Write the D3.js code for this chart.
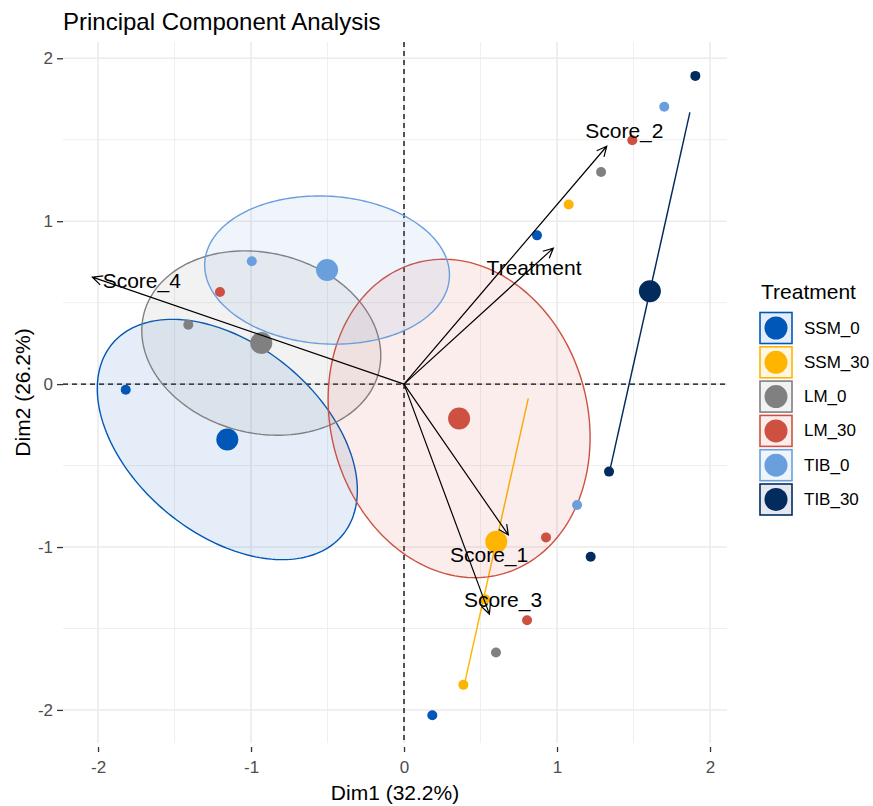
<!DOCTYPE html>
<html>
<head>
<meta charset="utf-8">
<script src="https://cdn.jsdelivr.net/npm/d3@7/dist/d3.min.js"></script>
<style>
  html, body { margin: 0; padding: 0; background: #ffffff; }
  svg { display: block; font-family: "Liberation Sans", Arial, Helvetica, sans-serif; }
</style>
</head>
<body>
<svg id="chart" width="873" height="806"></svg>
<script>
// ---- data ----------------------------------------------------------------
const groups = ["SSM_0", "SSM_30", "LM_0", "LM_30", "TIB_0", "TIB_30"];
const groupColors = ["#0057B7", "#FFB400", "#808080", "#CD5040", "#6A9FDE", "#022B5E"];

// individual scores (Dim1, Dim2) with their treatment
const indGroup = ["SSM_0", "SSM_0", "SSM_0", "SSM_30", "SSM_30", "SSM_30",
                  "LM_0", "LM_0", "LM_0", "LM_30", "LM_30", "LM_30", "LM_30",
                  "TIB_0", "TIB_0", "TIB_0", "TIB_30", "TIB_30", "TIB_30"];
const indDim1 = [-1.819, 0.869, 0.185, 1.076, 0.388, 0.529,
                 1.288, 0.601, -1.410, 1.492, 0.928, 0.804, -1.203,
                 1.701, 1.131, -0.995, 1.904, 1.220, 1.340];
const indDim2 = [-0.035, 0.913, -2.033, 1.102, -1.846, -1.320,
                 1.302, -1.648, 0.364, 1.497, -0.941, -1.449, 0.565,
                 1.702, -0.742, 0.754, 1.892, -1.060, -0.537];

// group means (ellipse centres)
const meanDim1 = [-1.155, 0.603, -0.933, 0.360, -0.503, 1.607];
const meanDim2 = [-0.340, -0.967, 0.252, -0.211, 0.700, 0.570];

// concentration ellipse shape matrices (var1, var2, cov12);
// SSM_30 and TIB_30 are collinear, so their ellipses collapse to segments
const ellVar1 = [0.7225, 0.0437, 0.610, 0.733, 0.640, 0.0684];
const ellVar2 = [0.544, 0.7726, 0.320, 0.955, 0.207, 1.2063];
const ellCov  = [-0.265, 0.183746, -0.060, -0.100, -0.024, 0.287247];

// variable loadings (arrow tips) and label anchors
const varNames = ["Score_1", "Score_2", "Score_3", "Score_4", "Treatment"];
const varDim1 = [0.682, 1.325, 0.558, -2.037, 0.976];
const varDim2 = [-0.926, 1.460, -1.412, 0.657, 0.835];
const varLabelDim1 = [0.556, 1.440, 0.647, -1.714, 0.850];
const varLabelDim2 = [-1.047, 1.554, -1.320, 0.637, 0.715];

const majorTicks = [-2, -1, 0, 1, 2];
const minorTicks = [-1.5, -0.5, 0.5, 1.5];

// ---- layout --------------------------------------------------------------
const svg = d3.select("#chart");
const panel = { left: 63, right: 727, top: 42, bottom: 743 };

const x = d3.scaleLinear().domain([-2.229, 2.111]).range([panel.left, panel.right]);
const y = d3.scaleLinear().domain([-2.203, 2.10]).range([panel.bottom, panel.top]);
const color = d3.scaleOrdinal().domain(groups).range(groupColors);

// ---- grid ----------------------------------------------------------------
const grid = svg.append("g");
minorTicks.forEach(v => {
  grid.append("line").attr("x1", x(v)).attr("x2", x(v)).attr("y1", panel.top).attr("y2", panel.bottom)
    .attr("stroke", "#EFEFEF").attr("stroke-width", 1);
  grid.append("line").attr("y1", y(v)).attr("y2", y(v)).attr("x1", panel.left).attr("x2", panel.right)
    .attr("stroke", "#EFEFEF").attr("stroke-width", 1);
});
majorTicks.forEach(v => {
  grid.append("line").attr("x1", x(v)).attr("x2", x(v)).attr("y1", panel.top).attr("y2", panel.bottom)
    .attr("stroke", "#EBEBEB").attr("stroke-width", 1.6);
  grid.append("line").attr("y1", y(v)).attr("y2", y(v)).attr("x1", panel.left).attr("x2", panel.right)
    .attr("stroke", "#EBEBEB").attr("stroke-width", 1.6);
});

// ---- axes ----------------------------------------------------------------
const xAxis = d3.axisBottom(x).tickValues(majorTicks).tickSize(5).tickPadding(9).tickFormat(d3.format("d"));
const gx = svg.append("g").attr("transform", `translate(0,${panel.bottom + 4})`).call(xAxis);
gx.select(".domain").remove();
gx.selectAll(".tick line").attr("stroke", "#333333").attr("stroke-width", 1.3);
gx.selectAll(".tick text").attr("fill", "#4D4D4D").style("font-size", "17px")
  .style("font-family", "'Liberation Sans', Arial, sans-serif");

const yAxis = d3.axisLeft(y).tickValues(majorTicks).tickSize(6).tickPadding(4).tickFormat(d3.format("d"));
const gy = svg.append("g").attr("transform", `translate(${panel.left},0)`).call(yAxis);
gy.select(".domain").remove();
gy.selectAll(".tick line").attr("stroke", "#333333").attr("stroke-width", 1.3);
gy.selectAll(".tick text").attr("fill", "#4D4D4D").style("font-size", "17px")
  .style("font-family", "'Liberation Sans', Arial, sans-serif");

// minus signs as plain hyphens
svg.selectAll(".tick text").text(d => (d < 0 ? "-" + Math.abs(d) : String(d)));

// ---- origin reference lines -------------------------------------------------
svg.append("line").attr("x1", x(0)).attr("x2", x(0)).attr("y1", panel.top).attr("y2", panel.bottom)
  .attr("stroke", "#000").attr("stroke-width", 1.3).attr("stroke-dasharray", "5,4");
svg.append("line").attr("y1", y(0)).attr("y2", y(0)).attr("x1", panel.left).attr("x2", panel.right)
  .attr("stroke", "#000").attr("stroke-width", 1.3).attr("stroke-dasharray", "5,4");

// ---- concentration ellipses -------------------------------------------------
function ellipsePoints(i) {
  const l11 = Math.sqrt(ellVar1[i]);
  const l21 = ellCov[i] / l11;
  const l22 = Math.sqrt(Math.max(0, ellVar2[i] - l21 * l21));
  return d3.range(0, 200).map(k => {
    const t = (k / 200) * 2 * Math.PI;
    return [meanDim1[i] + l11 * Math.cos(t), meanDim2[i] + l21 * Math.cos(t) + l22 * Math.sin(t)];
  });
}
const ellLine = d3.line().x(d => x(d[0])).y(d => y(d[1])).curve(d3.curveLinearClosed);
svg.append("g").selectAll("path").data(groups).join("path")
  .attr("d", (g, i) => ellLine(ellipsePoints(i)))
  .attr("fill", g => color(g)).attr("fill-opacity", 0.1)
  .attr("stroke", g => color(g)).attr("stroke-width", 1.4);

// ---- individuals -----------------------------------------------------------
svg.append("g").selectAll("circle").data(indGroup).join("circle")
  .attr("cx", (g, i) => x(indDim1[i])).attr("cy", (g, i) => y(indDim2[i]))
  .attr("r", 5).attr("fill", g => color(g));

// group means
svg.append("g").selectAll("circle").data(groups).join("circle")
  .attr("cx", (g, i) => x(meanDim1[i])).attr("cy", (g, i) => y(meanDim2[i]))
  .attr("r", 11).attr("fill", g => color(g));

// ---- variable arrows -------------------------------------------------------
const arrows = svg.append("g");
varNames.forEach((name, i) => {
  const x0 = x(0), y0 = y(0), x1 = x(varDim1[i]), y1 = y(varDim2[i]);
  const ang = Math.atan2(y1 - y0, x1 - x0);
  const head = 11, spread = Math.PI / 7;
  const p = d3.path();
  p.moveTo(x0, y0); p.lineTo(x1, y1);
  p.moveTo(x1 - head * Math.cos(ang - spread), y1 - head * Math.sin(ang - spread));
  p.lineTo(x1, y1);
  p.lineTo(x1 - head * Math.cos(ang + spread), y1 - head * Math.sin(ang + spread));
  arrows.append("path").attr("d", p.toString()).attr("fill", "none")
    .attr("stroke", "#000").attr("stroke-width", 1.2);
});
arrows.selectAll("text").data(varNames).join("text")
  .attr("x", (d, i) => x(varLabelDim1[i])).attr("y", (d, i) => y(varLabelDim2[i]))
  .attr("text-anchor", "middle").attr("dominant-baseline", "central")
  .style("font-size", "21px").attr("fill", "#000").text(d => d);

// ---- titles ----------------------------------------------------------------
svg.append("text").attr("x", panel.left).attr("y", 30).style("font-size", "24px").attr("fill", "#000")
  .text("Principal Component Analysis");
svg.append("text").attr("x", (panel.left + panel.right) / 2).attr("y", 800).attr("text-anchor", "middle")
  .style("font-size", "21px").attr("fill", "#000").text("Dim1 (32.2%)");
svg.append("text").attr("transform", `translate(30,${(panel.top + panel.bottom) / 2}) rotate(-90)`)
  .attr("text-anchor", "middle").style("font-size", "21px").attr("fill", "#000").text("Dim2 (26.2%)");

// ---- legend ----------------------------------------------------------------
const legend = svg.append("g").attr("transform", "translate(760,0)");
legend.append("text").attr("x", 1).attr("y", 299).style("font-size", "21px").attr("fill", "#000").text("Treatment");
const keys = legend.selectAll("g.key").data(groups).join("g").attr("class", "key")
  .attr("transform", (d, i) => `translate(0,${328 + i * 34.3})`);
keys.append("rect").attr("x", 0).attr("y", -15.5).attr("width", 32).attr("height", 31)
  .attr("fill", d => color(d)).attr("fill-opacity", 0.1)
  .attr("stroke", d => color(d)).attr("stroke-width", 1.6);
keys.append("circle").attr("cx", 16).attr("cy", 0).attr("r", 11.5).attr("fill", d => color(d));
keys.append("text").attr("x", 44).attr("y", 0).attr("dominant-baseline", "central")
  .style("font-size", "17px").attr("fill", "#000").text(d => d);
</script>
</body>
</html>
